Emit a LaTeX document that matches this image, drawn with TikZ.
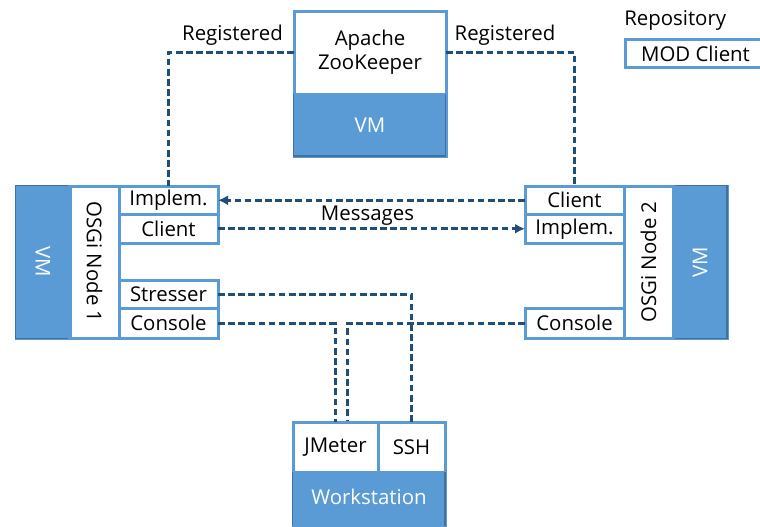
\documentclass[tikz,border=0pt]{standalone}
\usepackage{fontspec}
\setmainfont{Open Sans}
\usetikzlibrary{arrows.meta}
\definecolor{boxblue}{HTML}{5B9BD5}
\definecolor{edgedark}{HTML}{41719C}
\definecolor{linkblue}{HTML}{1F4E79}
\tikzset{
  x=0.75pt,y=-0.75pt,
  wbox/.style={draw=boxblue,line width=2.25pt,fill=white,inner sep=0pt,outer sep=0pt,font=\fontsize{15.3}{17}\selectfont,text=black,align=center},
  vmbox/.style={draw=boxblue,line width=2.25pt,fill=boxblue,inner sep=0pt,outer sep=0pt,font=\fontsize{15.3}{17}\selectfont,text=white,align=center},
  link/.style={draw=linkblue,line width=2pt,dash pattern=on 5pt off 2.6pt},
  linkarrow/.style={link,-{Latex[length=7.5pt,width=7.5pt]}},
  lbl/.style={inner sep=0pt,font=\fontsize{15.3}{17}\selectfont,text=black},
}
\newcommand{\rbox}[6]{\node[#1,minimum width=#4*0.75pt,minimum height=#5*0.75pt,anchor=north west] (#2) at #3 {#6};}
\begin{document}
\begin{tikzpicture}
\useasboundingbox (0,0) rectangle (760,526);
% ZooKeeper
\rbox{wbox}{zk}{(294,11)}{152}{83}{Apache\\[1pt]ZooKeeper}
\rbox{vmbox}{zkvm}{(294,94)}{152}{62}{VM}
\draw[edgedark,line width=1.4pt] (293.5,94) -- (293.5,156) -- (445.5,156) -- (445.5,94);
% Left
\rbox{vmbox}{vml}{(16,186)}{54}{152}{\rotatebox{-90}{VM}}
\draw[edgedark,line width=1.4pt] (68,185.5) -- (15.5,185.5) -- (15.5,338.5) -- (68,338.5);
\rbox{wbox}{osgil}{(70,186)}{49}{152}{\rotatebox{-90}{OSGi Node 1}}
\rbox{wbox}{impll}{(119,186)}{99}{28.5}{Implem.}
\rbox{wbox}{clientl}{(119,214.5)}{99}{28.5}{\raisebox{-0.6pt}{Client}}
\rbox{wbox}{stresser}{(119,280.5)}{99}{28}{\raisebox{-0.3pt}{Stresser}}
\rbox{wbox}{consolel}{(119,308.5)}{99}{30}{\raisebox{0.6pt}{Console}}
% Right
\rbox{vmbox}{vmr}{(673,186)}{54}{152}{\rotatebox{90}{VM}}
\draw[edgedark,line width=1.4pt] (675,185.5) -- (727,185.5) -- (727,338.5) -- (675,338.5);
\rbox{wbox}{osgir}{(624,186)}{49}{152}{\rotatebox{90}{OSGi Node 2}}
\rbox{wbox}{clientr}{(525,186)}{99}{28.5}{Client}
\rbox{wbox}{implr}{(525,214.5)}{99}{28.5}{Implem.}
\rbox{wbox}{consoler}{(525,308.5)}{99}{30}{\raisebox{0.6pt}{Console}}
% Workstation
\rbox{wbox}{jmeter}{(293,422)}{85}{50}{\raisebox{-1.2pt}{JMeter}}
\rbox{wbox}{ssh}{(378,422)}{67}{50}{SSH}
\rbox{vmbox}{ws}{(293,472)}{152}{53}{\raisebox{2.4pt}{Workstation}}
\draw[edgedark,line width=1.4pt] (292.5,472) -- (292.5,525.5);
\draw[edgedark,line width=1.4pt] (445,472) -- (445,525.5);
% Repository
\rbox{wbox}{mod}{(625,39.5)}{141}{28}{MOD Client}
\node[lbl,anchor=west] (repo) at (624,20) {Repository};
% Coordinates
\coordinate (jmb) at (347.5,421);
% Links
\draw[link] (zk.west) -| (impll.north);
\draw[link] (zk.east) -| (clientr.north);
\draw[linkarrow] (clientr.west) -- (impll.east);
\draw[linkarrow] (clientl.east) -- (implr.west);
\draw[link] (stresser.east) -| (ssh.north);
\draw[link] (consolel.east) -| (jmeter.north);
\draw[link] (consoler.west) -| (jmb);
% Labels
\node[lbl] (reg1) at (232.5,35) {Registered};
\node[lbl] (reg2) at (505,35) {Registered};
\node[lbl] (msg) at (367.5,216) {Messages};
\end{tikzpicture}
\end{document}
